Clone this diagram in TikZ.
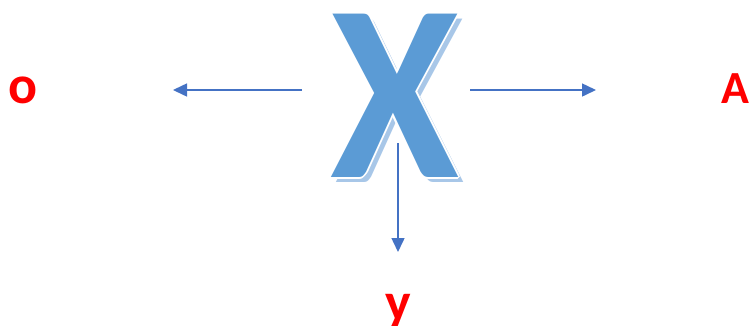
\documentclass[tikz,border=0pt]{standalone}
\usepackage{fontspec}
\setmainfont{Carlito}
\usetikzlibrary{arrows.meta}
\definecolor{xblue}{HTML}{5B9BD5}
\definecolor{xshade}{HTML}{A8C7E8}
\definecolor{arrowblue}{HTML}{4472C4}
\tikzset{bigx/.style = {font = \bfseries\fontsize{252}{252}\selectfont, inner sep = 0pt, anchor = base, xscale = 0.93, transform shape}}
\tikzset{tag/.style = {text = red, font = \bfseries\fontsize{46}{46}\selectfont, inner sep = 0pt, anchor = base}}
\tikzset{smalltag/.style = {tag, font = \bfseries\fontsize{54}{54}\selectfont}}
\tikzset{link/.style = {draw = arrowblue, line width = 1.5pt, -{Triangle[length = 14pt, width = 13pt]}}}

\begin{document}
\begin{tikzpicture}[x = 1pt, y = -1pt]
	\useasboundingbox (0, 0) rectangle (749, 325);

	% shadow, white rim, letter
	\node[bigx, text = xshade] at (400, 182) {X};
	\foreach \dx/\dy in {2/0, -2/0, 0/2, 0/-2, 1.5/1.5, -1.5/1.5, 1.5/-1.5, -1.5/-1.5}
		\node[bigx, text = white] at (395 + \dx, 177 + \dy) {X};
	\node[bigx, text = xblue] (X) at (395, 177) {X};

	\node[smalltag] (o) at (23, 103) {o};
	\node[tag] (A) at (735, 103) {A};
	\node[smalltag] (y) at (398, 320) {y};

	\coordinate (left) at (302, 90);
	\coordinate (right) at (470, 90);
	\coordinate (down) at (398, 143);
	\coordinate (leftend) at (173, 90);
	\coordinate (rightend) at (596, 90);
	\coordinate (downend) at (398, 252);

	\draw[link] (left) -- (leftend);
	\draw[link] (right) -- (rightend);
	\draw[link] (down) -- (downend);
\end{tikzpicture}
\end{document}
